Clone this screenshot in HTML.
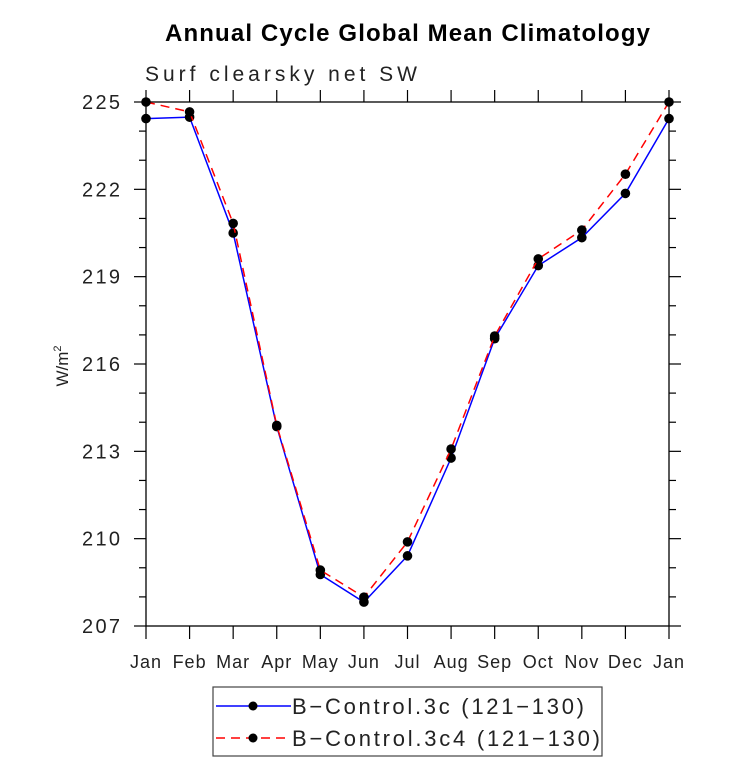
<!DOCTYPE html>
<html><head><meta charset="utf-8"><style>
body{margin:0;background:#fff;}
svg text{font-family:"Liberation Sans",sans-serif;}
</style></head><body>
<svg id="chart" width="733" height="762" xmlns="http://www.w3.org/2000/svg">
<text x="165" y="41" font-size="24" font-weight="bold" textLength="485">Annual Cycle Global Mean Climatology</text>
<text x="145" y="81" font-size="21" fill="#222" textLength="272">Surf clearsky net SW</text>
<text transform="translate(68,366) rotate(-90)" text-anchor="middle" font-size="17" fill="#222">W/m<tspan font-size="11" dy="-7">2</tspan></text>
<g id="axes"></g>
<g id="series"></g>
<g>
<rect x="213" y="687" width="389" height="69" fill="none" stroke="#444" stroke-width="1.2"/>
<line x1="216" y1="706" x2="291" y2="706" stroke="#0000ff" stroke-width="1.5"/>
<circle cx="253" cy="706" r="4.5" fill="#000"/>
<text x="292" y="714" font-size="22" fill="#222" textLength="292">B−Control.3c (121−130)</text>
<line x1="216" y1="738" x2="291" y2="738" stroke="#ff0000" stroke-width="1.5" stroke-dasharray="9,6"/>
<circle cx="253" cy="738" r="4.5" fill="#000"/>
<text x="292" y="746" font-size="22" fill="#222" textLength="308">B−Control.3c4 (121−130)</text>
</g>
</svg>
<script>
const months = ["Jan","Feb","Mar","Apr","May","Jun","Jul","Aug","Sep","Oct","Nov","Dec","Jan"];
const yTicks = [207,210,213,216,219,222,225];
const blueValues = [224.43,224.48,220.5,213.85,208.77,207.82,209.41,212.77,216.87,219.38,220.34,221.86,224.43];
const redValues = [225.0,224.66,220.83,213.89,208.92,207.99,209.89,213.08,216.96,219.61,220.6,222.52,225.0];
const X0=146,X1=669,Y0=102,Y1=626,YMIN=207,YMAX=225;
const NS="http://www.w3.org/2000/svg";
function xs(i){return X0+(X1-X0)*i/(months.length-1);}
function ys(v){return Y1-(v-YMIN)/(YMAX-YMIN)*(Y1-Y0);}
function mk(tag,attrs,parent){const e=document.createElementNS(NS,tag);for(const k in attrs)e.setAttribute(k,attrs[k]);parent.appendChild(e);return e;}
const ax=document.getElementById('axes');
const frame=mk('rect',{x:X0,y:Y0,width:X1-X0,height:Y1-Y0,fill:'none',stroke:'#000','stroke-width':1.3},ax);


months.forEach((m,i)=>{
  const x=xs(i);
  const t1=mk('line',{x1:x,y1:Y1,x2:x,y2:Y1+13,stroke:'#000','stroke-width':1.2},ax);
  
  
  const t2=mk('line',{x1:x,y1:Y0,x2:x,y2:Y0-12,stroke:'#000','stroke-width':1.2},ax);
  
  
  const lb=mk('text',{x:x,y:668,'text-anchor':'middle','font-size':18,'letter-spacing':1,fill:'#222'},ax);
  lb.textContent=m;
  
  
});
for(let v=YMIN;v<=YMAX;v++){
  const y=ys(v);const major=(v-YMIN)%3===0;const L=major?12:7;
  const a=mk('line',{x1:X0-L,y1:y,x2:X0,y2:y,stroke:'#000','stroke-width':1.2},ax);
  
  
  const b=mk('line',{x1:X1,y1:y,x2:X1+L,y2:y,stroke:'#000','stroke-width':1.2},ax);
  
  
}
yTicks.forEach(v=>{
  const lb=mk('text',{x:82,y:ys(v)+7,'font-size':20,fill:'#222',textLength:38},ax);
  lb.textContent=v;
  
  
});
const sg=document.getElementById('series');
function drawSeries(vals,color,dash,name){
  const pts=vals.map((v,i)=>xs(i)+','+ys(v)).join(' ');
  const attrs={points:pts,fill:'none',stroke:color,'stroke-width':1.5};
  if(dash)attrs['stroke-dasharray']=dash;
  const pl=mk('polyline',attrs,sg);
  
  
  vals.forEach((v,i)=>{
    const c=mk('circle',{cx:xs(i),cy:ys(v),r:4.8,fill:'#000'},sg);
    
    
  });
}
drawSeries(blueValues,'#0000ff',null,'control-3c');
drawSeries(redValues,'#ff0000','9,6','control-3c4');
</script>
</body></html>
